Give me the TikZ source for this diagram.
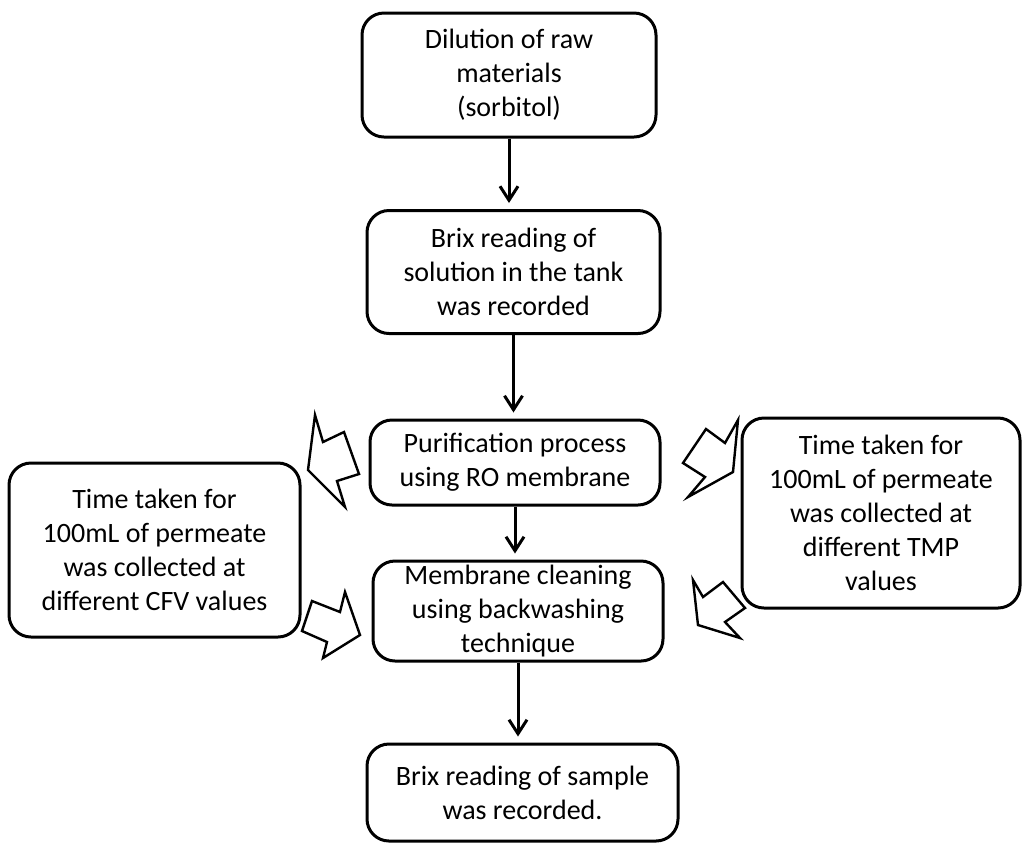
\documentclass[tikz,border=0pt]{standalone}
\usepackage{fontspec}
\setmainfont{Carlito}
\usetikzlibrary{arrows.meta}
\begin{document}
\begin{tikzpicture}[x=0.5pt,y=-0.5pt,
  box/.style={draw, line width=1.5pt, rounded corners=11pt, align=center, inner sep=0pt,
    font=\fontsize{14}{17}\selectfont},
  flow/.style={line width=1.5pt, -{Straight Barb[length=7pt,width=9pt,line width=1.5pt]}},
  blockarrow/.style={draw, fill=white, line width=1.2pt, line join=miter}]
\useasboundingbox (0,0) rectangle (1023,843);

\node[box, minimum width=147pt, minimum height=62pt] (b1) at (509,75)
  {Dilution of raw\\materials\\(sorbitol)};
\node[box, minimum width=146.5pt, minimum height=61.5pt] (b2) at (513.5,272)
  {Brix reading of\\solution in the tank\\was recorded};
\node[box, minimum width=145pt, minimum height=42.5pt] (b3) at (515,462.5)
  {Purification process\\using RO membrane};
\node[box, minimum width=145pt, minimum height=50pt] (b4) at (518,611)
  {Membrane cleaning\\using backwashing\\technique};
\node[box, minimum width=155.5pt, minimum height=48.5pt] (b5) at (522.5,792.5)
  {Brix reading of sample\\was recorded.};
\node[box, minimum width=145.5pt, minimum height=87pt] (left) at (154.5,550)
  {Time taken for\\100mL of permeate\\was collected at\\different CFV values};
\node[box, minimum width=139pt, minimum height=95pt] (right) at (881,513)
  {Time taken for\\100mL of permeate\\was collected at\\different TMP\\values};

\draw[flow, shorten >=3pt] (b1.south) -- (b1.south |- b2.north);
\draw[flow, shorten >=3pt] (b2.south) -- (b2.south |- b3.north);
\draw[flow, shorten >=3pt] (b3.south) -- (b3.south |- b4.north);
\draw[flow, shorten >=3pt] (b4.south) -- (b4.south |- b5.north);

% block arrows
\draw[blockarrow] (315,415) -- (323,442) -- (344,432) -- (359,474) -- (337,481) -- (345,507) -- (308,470) -- cycle;
\draw[blockarrow] (312,601) -- (340,612) -- (345,592) -- (360,635) -- (323,658) -- (327,642) -- (302,631) -- cycle;
\draw[blockarrow] (706,429) -- (725,443) -- (738,420) -- (733,472) -- (688,497) -- (705,477) -- (683,463) -- cycle;
\draw[blockarrow] (693,580) -- (703,597) -- (723,582) -- (745,608) -- (725,622) -- (740,638) -- (698,625) -- cycle;
\end{tikzpicture}
\end{document}
